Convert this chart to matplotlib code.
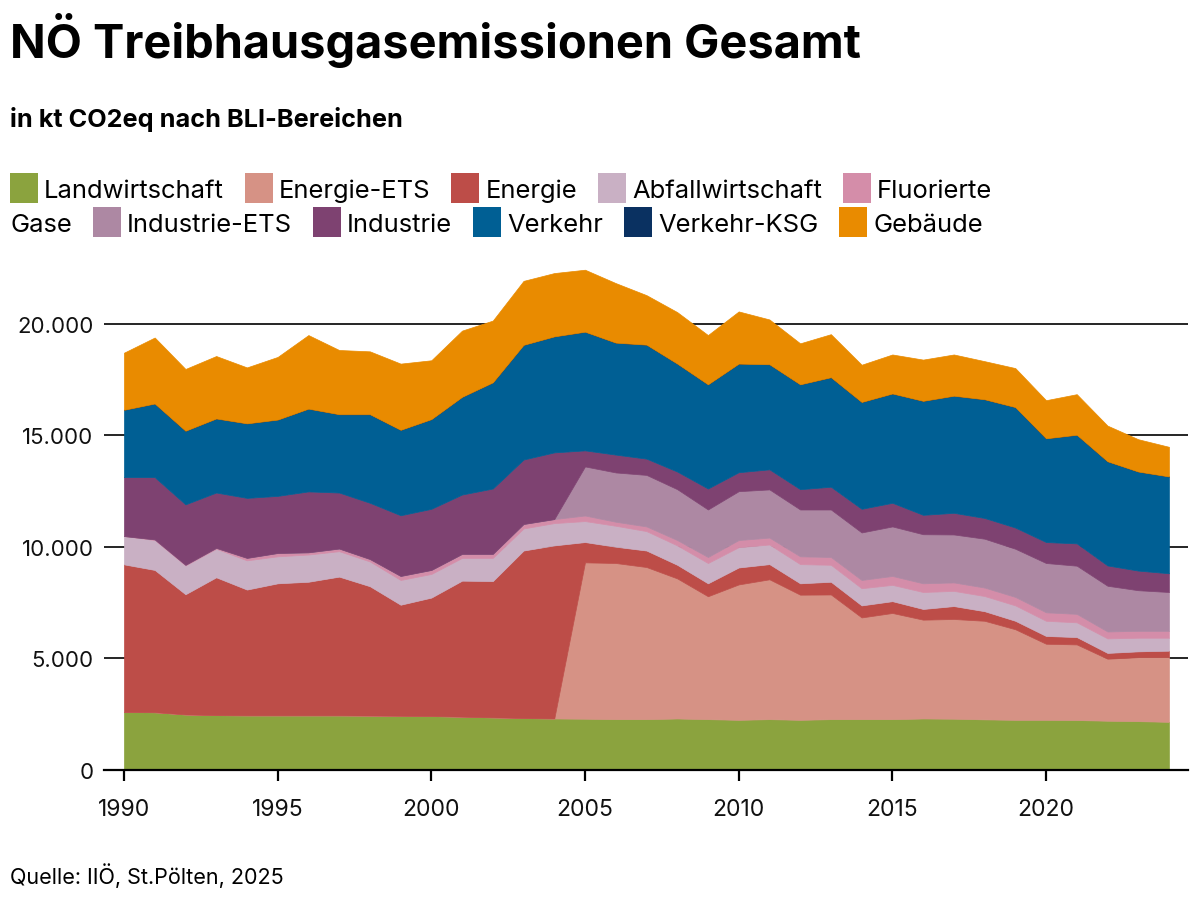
import matplotlib
matplotlib.use("Agg")
import matplotlib.pyplot as plt
from matplotlib.patches import Rectangle
from matplotlib.ticker import FuncFormatter, MultipleLocator

# Werte in kt CO2eq
years = list(range(1990, 2025))

landwirtschaft = [2600, 2590, 2490, 2460, 2450, 2450, 2450, 2450, 2440, 2430, 2420, 2390, 2360, 2330, 2310,
                  2300, 2280, 2280, 2310, 2280, 2250, 2280, 2250, 2280, 2280, 2280, 2310, 2300, 2270, 2250,
                  2250, 2240, 2210, 2190, 2160]
energie_ets = [0, 0, 0, 0, 0, 0, 0, 0, 0, 0, 0, 0, 0, 0, 0,
               7010, 7000, 6820, 6280, 5510, 6070, 6270, 5610, 5590, 4560, 4760, 4430, 4470, 4420, 4060,
               3410, 3390, 2780, 2870, 2900]
energie = [6620, 6380, 5390, 6180, 5640, 5920, 5990, 6220, 5800, 4980, 5310, 6100, 6110, 7510, 7760,
           910, 730, 740, 610, 580, 760, 680, 510, 570, 540, 530, 480, 580, 430, 380,
           350, 330, 260, 260, 290]
abfall = [1270, 1340, 1290, 1280, 1310, 1210, 1220, 1140, 1110, 1110, 1060, 1020, 1040, 990, 1000,
          940, 940, 870, 870, 910, 910, 880, 860, 760, 770, 730, 760, 680, 680, 690,
          680, 660, 650, 610, 580]
fluor = [0, 30, 30, 40, 110, 150, 100, 120, 110, 180, 180, 180, 180, 200, 180,
         250, 180, 210, 240, 270, 320, 310, 350, 350, 370, 400, 390, 380, 380, 380,
         380, 380, 310, 310, 310]
industrie_ets = [0, 0, 0, 0, 0, 0, 0, 0, 0, 0, 0, 0, 0, 0, 0,
                 2200, 2210, 2310, 2280, 2130, 2190, 2160, 2100, 2130, 2130, 2220, 2200, 2150, 2190, 2160,
                 2210, 2160, 2050, 1820, 1740]
industrie = [2640, 2790, 2710, 2480, 2690, 2560, 2730, 2510, 2520, 2720, 2740, 2660, 2930, 2890, 2990,
             720, 800, 730, 790, 940, 850, 900, 910, 1020, 1060, 1060, 870, 970, 930, 950,
             940, 1000, 910, 880, 840]
verkehr = [3020, 3300, 3300, 3320, 3340, 3420, 3710, 3510, 3970, 3830, 4020, 4380, 4760, 5140, 5200,
           5320, 5020, 5110, 4840, 4670, 4870, 4710, 4700, 4910, 4790, 4900, 5110, 5250, 5320, 5400,
           4650, 4870, 4670, 4440, 4340]
verkehr_ksg = [0] * 35
gebaeude = [2560, 2960, 2770, 2800, 2510, 2810, 3300, 2880, 2820, 2970, 2640, 2970, 2770, 2870, 2840,
            2780, 2670, 2220, 2310, 2210, 2340, 2010, 1840, 1930, 1670, 1750, 1850, 1850, 1710, 1750,
            1710, 1820, 1600, 1450, 1330]

labels = ["Landwirtschaft", "Energie-ETS", "Energie", "Abfallwirtschaft", "Fluorierte Gase",
          "Industrie-ETS", "Industrie", "Verkehr", "Verkehr-KSG", "Gebäude"]
colors = ["#8ba33e", "#d69285", "#bd4d48", "#c9b0c4", "#d48da9",
          "#ad88a3", "#7e4271", "#005f94", "#0a3161", "#e98b00"]
series = [landwirtschaft, energie_ets, energie, abfall, fluor,
          industrie_ets, industrie, verkehr, verkehr_ksg, gebaeude]

plt.rcParams['font.family'] = ['Inter', 'DejaVu Sans']

W, H = 1200, 904
fig = plt.figure(figsize=(W / 100, H / 100), dpi=100)

def fx(px):
    return px / W

def fy(py):
    return 1 - py / H

ax = fig.add_axes([fx(104), fy(771), fx(1084), (771 - 258) / H])
ax.stackplot(years, *series, colors=colors, linewidth=0.5, edgecolor="face", zorder=2)

ax.set_xlim(1989.35, 2024.62)
ax.set_ylim(0, 23000)
ax.yaxis.set_major_locator(MultipleLocator(5000))
ax.xaxis.set_major_locator(MultipleLocator(5))
ax.yaxis.set_major_formatter(FuncFormatter(lambda v, p: f"{v:,.0f}".replace(",", ".")))
ax.grid(axis="y", color="black", linewidth=1.2)
ax.set_axisbelow(True)
for s in ["left", "right", "top"]:
    ax.spines[s].set_visible(False)
ax.spines["bottom"].set_linewidth(1.6)
ax.spines["bottom"].set_zorder(5)
ax.tick_params(axis="y", length=0, pad=7.5, labelsize=16, labelcolor="#111111")
ax.tick_params(axis="x", length=8, width=1.6, pad=12, labelsize=16.5, labelcolor="#111111")

# Titel
fig.text(fx(10), fy(58), "NÖ Treibhausgasemissionen Gesamt", fontsize=33.8, fontweight="bold",
         va="baseline", ha="left")
fig.text(fx(10), fy(127), "in kt CO2eq nach BLI-Bereichen", fontsize=18.2, fontweight="bold",
         va="baseline", ha="left")
fig.text(fx(10), fy(884), "Quelle: IIÖ, St.Pölten, 2025", fontsize=15.5, va="baseline", ha="left")

# Legende mit Zeilenumbruch wie im Original
renderer = fig.canvas.get_renderer()
leg_size = 18.4
x, row_y = 10, 189
max_x = 1040
sq_w, sq_h = 28, 30

def text_width(s):
    t = fig.text(0, 0, s, fontsize=leg_size)
    w = t.get_window_extent(renderer=renderer).width
    t.remove()
    return w

space_w = text_width("a b") - text_width("ab")
for lab, col in zip(labels, colors):
    words = lab.split(" ")
    if x + sq_w + 6 + text_width(words[0]) > max_x:
        x, row_y = 10, row_y + 34
    fig.patches.append(Rectangle((fx(x), fy(row_y + sq_h / 2)), fx(sq_w), sq_h / H,
                                 transform=fig.transFigure, facecolor=col, edgecolor="none"))
    x += sq_w + 6
    for i, wd in enumerate(words):
        w = text_width(wd)
        if i > 0 and x + w > max_x:
            x, row_y = 10, row_y + 34
        fig.text(fx(x), fy(row_y), wd, fontsize=leg_size, va="center_baseline", ha="left")
        x += w + space_w
    x += 21 - space_w

fig.savefig("out.png", dpi=100)
